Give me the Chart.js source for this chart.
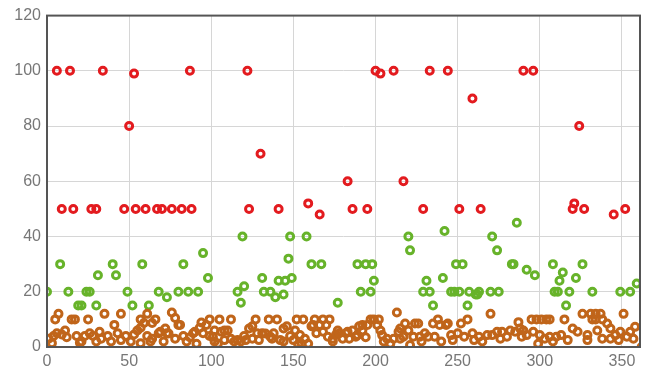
<!DOCTYPE html>
<html>
<head>
<meta charset="utf-8">
<script src="https://cdn.jsdelivr.net/npm/chart.js@4.4.1/dist/chart.umd.min.js"></script>
<style>
  html, body { margin: 0; padding: 0; background: #fff; }
  #wrap { width: 649px; height: 373px; }
</style>
</head>
<body>
<div id="wrap"><canvas id="chartScatter"></canvas></div>
<script>
// nilai tinggi (merah)
const redPoints = [
  [6,100],[9,50],[14,100],[16,50],[27,50],[30,50],[34,100],[47,50],[50,80],[53,99],
  [54,50],[60,50],[67,50],[70,50],[76,50],[82,50],[87,100],[88,50],[122,100],[123,50],
  [130,70],[141,50],[159,52],[166,48],[183,60],[186,50],[195,50],[200,100],[203,99],[211,100],
  [217,60],[229,50],[233,100],[244,100],[251,50],[259,90],[264,50],[290,100],[296,100],[320,50],
  [321,52],[324,80],[327,50],[345,48],[352,50]
];
// nilai sedang (hijau)
const greenPoints = [
  [0,20],[8,30],[13,20],[19,15],[21,15],[24,20],[26,20],[30,15],[31,26],[40,30],
  [42,26],[49,20],[52,15],[58,30],[62,15],[68,20],[73,18],[80,20],[83,30],[86,20],
  [92,20],[95,34],[98,25],[116,20],[118,16],[119,40],[120,22],[131,25],[132,20],[136,20],
  [139,18],[141,24],[144,19],[145,24],[147,32],[148,40],[149,25],[158,40],[161,30],[167,30],
  [177,16],[189,30],[191,20],[194,30],[197,20],[198,30],[199,24],[220,40],[221,35],[229,20],
  [231,24],[233,20],[235,15],[241,25],[242,42],[246,20],[248,20],[249,30],[251,20],[253,30],
  [256,15],[257,20],[261,19],[262,19],[263,20],[270,20],[271,40],[274,35],[275,20],[283,30],
  [284,30],[286,45],[292,28],[297,26],[308,30],[309,20],[311,20],[312,24],[314,27],[316,15],
  [318,20],[322,25],[326,30],[332,20],[349,20],[355,20],[359,23]
];
// nilai rendah (coklat)
const brownPoints = [
  [1,3],[3,1.4],[4,4],[5,10],[6,5],[7,12],[9,4.5],[11,6],[12,3.5],[15,10],[17,10],[18,4],
  [20,1.5],[21,2],[23,4],[25,10],[26,5],[28,4],[30,2],[32,5.5],[33,3],[35,12],[37,4],[39,2],
  [41,8],[43,5],[45,12],[45,2.5],[48,4],[51,2],[53,4.5],[55,6],[57,10],[57,7],[57,1.4],[59,8.7],
  [61,12],[61,4],[63,2],[64,8.7],[64,3],[66,10],[68,5],[69,5.5],[71,2],[72,6.7],[73,5],[74,4.9],
  [76,12.5],[78,10.5],[78,3],[80,8],[81,8],[83,4],[85,2],[87,3.5],[89,5],[90,5.5],[91,1.2],[93,7],
  [94,8.9],[95,5],[97,8],[99,10],[99,4],[101,3.7],[102,6],[102,2],[104,1.2],[105,10],[106,5.5],
  [108,6],[108,2.5],[110,6],[112,10],[112,3],[114,2],[116,2.5],[118,2],[120,4],[121,2.5],[123,6.7],
  [125,3],[125,7.5],[127,10],[128,5],[129,2.5],[131,5],[133,4.9],[135,10],[136,3.7],[137,3],[138,5],
  [140,10],[142,2.5],[144,6.7],[144,2],[146,7.5],[148,4],[150,2.5],[151,6],[152,10],[153,1],[154,4.3],
  [155,1.2],[156,10],[157,3],[159,1.2],[161,7.5],[162,8],[163,10],[164,5],[166,8],[168,10],[168,5.5],
  [170,8],[171,3.7],[172,10],[174,3],[174,2],[176,4.5],[177,6],[178,5],[180,3],[182,5],[183,5.5],
  [184,3],[186,6],[188,3.7],[189,4.3],[190,7.5],[192,8],[192,6],[194,3.5],[195,8],[197,10],[199,10],
  [201,8],[202,10],[203,6],[204,4.3],[205,2],[207,3],[209,1.2],[211,3],[213,12.5],[214,5.5],[215,3],
  [215,6.7],[217,3.7],[218,8.5],[220,6],[221,0.7],[223,3.7],[224,8.5],[226,8.5],[227,3.7],[228,2],
  [230,5],[232,3.7],[235,8.5],[236,3.7],[238,10],[239,8],[240,2],[243,8],[244,8.5],[246,4.3],[247,2.5],
  [250,5],[252,8.5],[254,3.7],[256,10],[259,5],[260,2.5],[263,3.7],[265,2],[268,4.3],[270,12],[271,4.3],
  [274,5.5],[276,3],[277,5.5],[280,3.7],[282,6],[285,5.5],[287,9],[288,6.7],[289,3.7],[290,6],[292,4.3],
  [295,10],[296,5.5],[298,10],[299,1.2],[300,4.3],[301,10],[303,3],[304,10],[306,3.7],[306,10],[308,2],
  [310,3.7],[313,4.3],[315,10],[317,2.5],[320,6.7],[323,5.5],[326,12],[329,4.3],[329,2.5],[331,12],
  [332,10],[334,12],[334,10],[335,6],[337,12],[338,3],[338,10],[341,8.5],[343,6.7],[343,3],[346,4.3],
  [348,2.5],[349,5.5],[351,12],[353,3.7],[355,5.5],[357,3],[358,7.3],[362,0]
];
const xTicks = [0, 50, 100, 150, 200, 250, 300, 350];
const yTicks = [0, 20, 40, 60, 80, 100, 120];

const toXY = arr => arr.map(p => ({ x: p[0], y: p[1] }));

// garis kotak di sekeliling area chart
const frame = {
  id: 'frame',
  afterDatasetsDraw(chart) {
    const a = chart.chartArea, c = chart.ctx;
    c.save();
    c.strokeStyle = '#555';
    c.lineWidth = 2;
    c.strokeRect(a.left, a.top, a.right - a.left, a.bottom - a.top);
    c.restore();
  }
};

function pointSet(data, color) {
  return {
    data: toXY(data),
    borderColor: color,
    backgroundColor: 'rgba(255,255,255,0)',
    borderWidth: 3,
    pointRadius: 3.5,
    pointHoverRadius: 3.5
  };
}

const ctx = document.getElementById('chartScatter').getContext('2d');
new Chart(ctx, {
  type: 'scatter',
  data: {
    datasets: [
      pointSet(brownPoints, '#c0651a'),
      pointSet(greenPoints, '#67b32a'),
      pointSet(redPoints, '#e31b1f')
    ]
  },
  options: {
    responsive: true,
    maintainAspectRatio: false,
    animation: false,
    layout: { padding: { top: 13, right: 9, left: 0, bottom: 0 } },
    plugins: {
      legend: { display: false },
      tooltip: { enabled: false }
    },
    scales: {
      x: {
        type: 'linear',
        min: 0,
        max: 361,
        afterBuildTicks: s => { s.ticks = xTicks.map(v => ({ value: v })); },
        afterFit: s => { s.height = 26; },
        grid: { color: '#d6d6d6', drawTicks: false },
        border: { display: false },
        ticks: { color: '#777', font: { family: 'Liberation Sans', size: 16 }, padding: 5 }
      },
      y: {
        min: 0,
        max: 120,
        afterBuildTicks: s => { s.ticks = yTicks.map(v => ({ value: v })); },
        afterFit: s => { s.width = 47; },
        grid: { color: '#d6d6d6', drawTicks: false },
        border: { display: false },
        ticks: { color: '#777', font: { family: 'Liberation Sans', size: 16 }, padding: 6 }
      }
    }
  },
  plugins: [frame]
});
</script>
</body>
</html>
